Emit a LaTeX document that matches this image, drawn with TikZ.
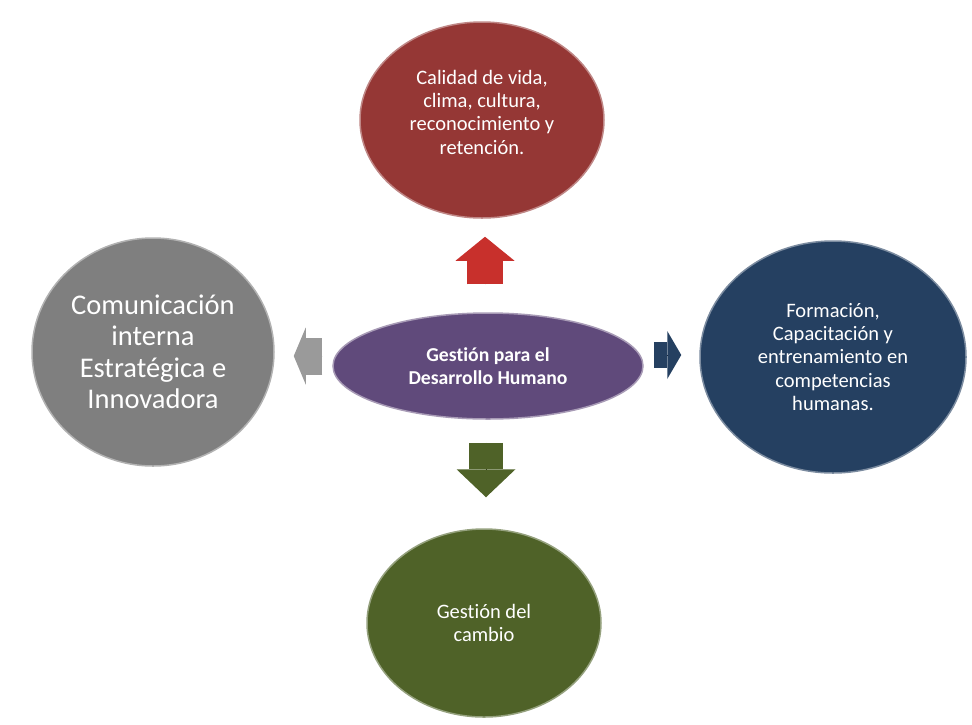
\documentclass[tikz,border=0pt]{standalone}
\usepackage{fontspec}
\setmainfont{Carlito}[RawFeature={-liga;-calt;-clig;-dlig}]
\usetikzlibrary{shapes.geometric,arrows.meta}
\definecolor{redC}{HTML}{953735}
\definecolor{redA}{HTML}{C8302C}
\definecolor{grayC}{HTML}{7F7F7F}
\definecolor{grayA}{HTML}{9A9A9A}
\definecolor{blueC}{HTML}{254061}
\definecolor{greenC}{HTML}{4F6228}
\definecolor{purpleC}{HTML}{604A7B}

\begin{document}
\begin{tikzpicture}[x=1pt,y=-1pt]
  % `bubble' is used for the five ellipses.
  % `blockarrow' is used for the thick arrows out of the centre.
  \tikzstyle{bubble} = [ellipse,line width=1.5pt,text=white,align=center,inner sep=0pt,font=\fontsize{20.5}{23.3}\selectfont]
  \tikzstyle{blockarrow} = [line width=36pt]
  %
  \useasboundingbox (0,0) rectangle (972,724);
  % Ellipses.
  \node[bubble,fill=purpleC,draw=purpleC!55!white,minimum width=310pt,minimum height=106pt,font=\fontsize{19.7}{23}\selectfont\bfseries] (ctr) at (488,366) {Gestión para el\\Desarrollo Humano};
  \node[bubble,fill=redC,draw=redC!60!white,minimum width=244pt,minimum height=196pt,text depth=16pt] (calidad) at (482,120) {Calidad de vida,\\clima, cultura,\\reconocimiento y\\retención.};
  \node[bubble,fill=grayC,draw=grayC!60!white,minimum width=242pt,minimum height=228pt,font=\fontsize{28.5}{31.5}\selectfont] (comun) at (153,352) {Comunicación\\interna\\Estratégica e\\Innovadora};
  \node[bubble,fill=blueC,draw=blueC!60!white,minimum width=266pt,minimum height=232pt] (formacion) at (833,357) {Formación,\\Capacitación y\\entrenamiento en\\competencias\\humanas.};
  \node[bubble,fill=greenC,draw=greenC!60!white,minimum width=234pt,minimum height=188pt] (cambio) at (484,623) {Gestión del\\cambio};
  %
  % Arrows (the preaction fills the seam under the head).
  \draw[blockarrow,draw=redA,shorten <=28pt,shorten >=18pt,preaction={draw,-,shorten >=39pt},-{Triangle[length=24pt,width=59pt,line width=0pt]}]
    ([xshift=-3pt]ctr.north) -- ([xshift=-3pt]ctr.north |- calidad.south);
  \draw[blockarrow,draw=greenC,line width=34pt,shorten <=23pt,shorten >=31pt,preaction={draw,-,shorten >=56pt},-{Triangle[length=28pt,width=59pt,line width=0pt]}]
    ([xshift=-2pt]ctr.south) -- ([xshift=-2pt]ctr.south |- cambio.north);
  \draw[blockarrow,draw=grayA,line width=37pt,shorten <=10pt,shorten >=19pt,preaction={draw,-,shorten >=29pt},-{Triangle[length=12pt,width=57pt,line width=0pt]}]
    ([yshift=10pt]ctr.west) -- ([yshift=10pt]ctr.west -| comun.east);
  \draw[blockarrow,draw=blueC,line width=26pt,shorten <=10pt,shorten >=18pt,preaction={draw,-,shorten >=29pt},-{Triangle[length=14pt,width=48pt,line width=0pt]}]
    ([yshift=11pt]ctr.east) -- ([yshift=11pt]ctr.east -| formacion.west);
\end{tikzpicture}
\end{document}
